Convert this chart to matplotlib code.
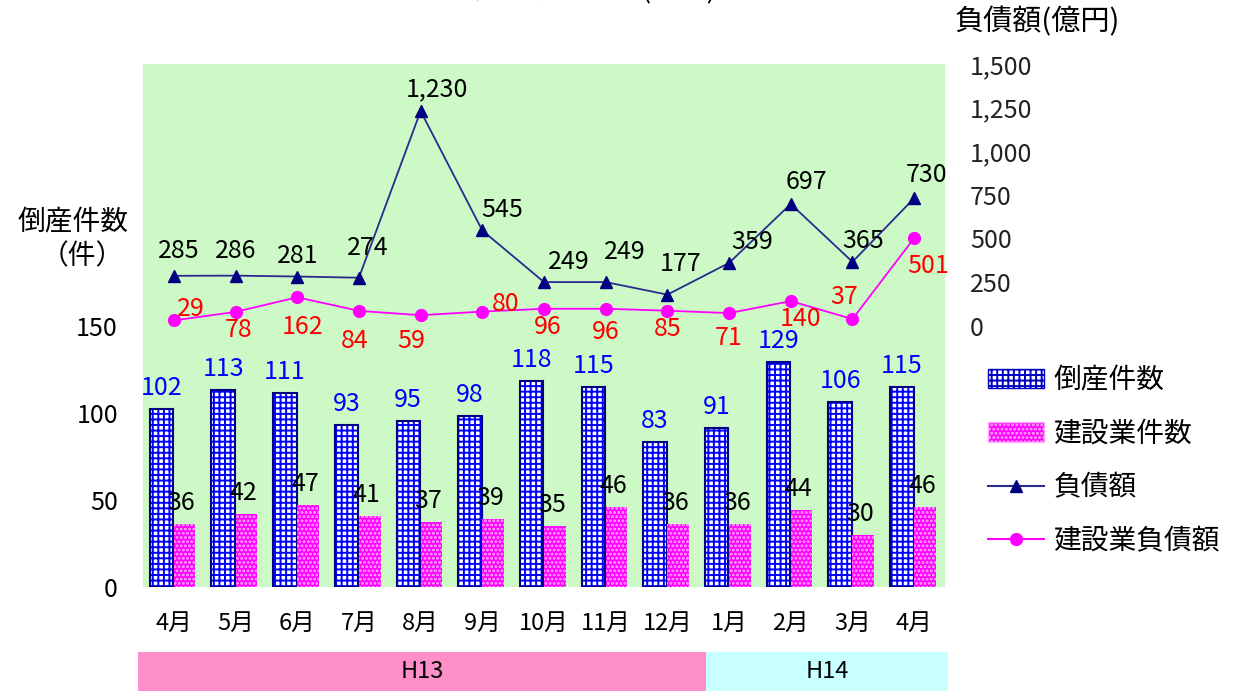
import numpy as np
import matplotlib
matplotlib.use('Agg')
import matplotlib.pyplot as plt
from matplotlib.patches import Patch, Rectangle
from matplotlib.lines import Line2D
from matplotlib.transforms import blended_transform_factory

plt.rcParams['font.family'] = ['Noto Sans CJK JP', 'DejaVu Sans']
plt.rcParams['hatch.linewidth'] = 1.4

# データ
months = ['4月', '5月', '6月', '7月', '8月', '9月', '10月', '11月', '12月',
          '1月', '2月', '3月', '4月']
periods = ['H13', 'H14']
period_lengths = [9, 4]
total_counts = [102, 113, 111, 93, 95, 98, 118, 115, 83, 91, 129, 106, 115]
constr_counts = [36, 42, 47, 41, 37, 39, 35, 46, 36, 36, 44, 30, 46]
total_debt = [285, 286, 281, 274, 1230, 545, 249, 249, 177, 359, 697, 365, 730]
constr_debt = [29, 78, 162, 84, 59, 80, 96, 96, 85, 71, 140, 37, 501]

# ラベル位置 (pixel offset)
debt_offsets = [(5, -25), (0, -25), (0, -21), (9, -30), (16, -22), (20, -20), (25, -20),
                (19, -30), (13, -31), (23, -21), (16, -22), (11, -21), (12, -23)]
cdebt_offsets = [(17, -11), (3, 18), (5, 30), (-4, 30), (-9, 26), (23, -8), (4, 18),
                 (0, 23), (0, 18), (0, 25), (10, 18), (-8, -22), (14, 28)]

W, H = 1235, 691
fig = plt.figure(figsize=(W / 100, H / 100), dpi=100)
ax = fig.add_axes([143 / W, 104 / H, 802 / W, 523 / H])
ax.set_facecolor('#ccf9c6')
for s in ax.spines.values():
    s.set_visible(False)

x = np.arange(len(months))
ax.bar(x - 0.2, total_counts, 0.38, facecolor='white', edgecolor='#0000ff', hatch='+++', lw=0)
ax.bar(x - 0.2, total_counts, 0.38, fill=False, edgecolor='#000080', lw=1.5)
ax.bar(x + 0.175, constr_counts, 0.35, facecolor='#ff00ff', edgecolor='#ffb0ff', hatch='....', lw=0)

for i, v in enumerate(total_counts):
    ax.annotate(str(v), (x[i] - 0.2, v), xytext=(0, 8), textcoords='offset pixels',
                ha='center', va='bottom', color='#0000ff', fontsize=18)
for i, v in enumerate(constr_counts):
    ax.annotate(str(v), (x[i] + 0.175, v), xytext=(-3, 8), textcoords='offset pixels',
                ha='center', va='bottom', color='black', fontsize=18)

ax.set_xlim(-0.5, 12.5)
ax.set_ylim(0, 300)
ax.set_yticks([0, 50, 100, 150])
ax.set_xticks(x, months)
ax.tick_params(axis='y', length=0, pad=18, labelsize=18)
ax.tick_params(axis='x', length=0, pad=18, labelsize=17)

ax2 = ax.twinx()
for s in ax2.spines.values():
    s.set_visible(False)
ax2.set_ylim(-1500, 1500)
rticks = [0, 250, 500, 750, 1000, 1250, 1500]
ax2.set_yticks(rticks, [f'{v:,}' for v in rticks])
ax2.tick_params(axis='y', length=0, pad=18, labelsize=18, labelcolor='#222222')

ax2.plot(x, total_debt, color='#2a2a90', lw=1.3, marker='^', ms=9, mfc='#000080', mec='#000080')
ax2.plot(x, constr_debt, color='#ff00ff', lw=1.3, marker='o', ms=8.5)

for i, v in enumerate(total_debt):
    ax2.annotate(f'{v:,}', (x[i], v), xytext=(debt_offsets[i][0], -debt_offsets[i][1]),
                 textcoords='offset pixels', ha='center', va='center', color='black', fontsize=18)
for i, v in enumerate(constr_debt):
    ax2.annotate(str(v), (x[i], v), xytext=(cdebt_offsets[i][0], -cdebt_offsets[i][1]),
                 textcoords='offset pixels', ha='center', va='center', color='#ff0000', fontsize=18)

# 年度帯
trans = blended_transform_factory(ax.transData, fig.transFigure)
band_colors = ['#ff8fc8', '#c8ffff']
start = -0.58
for j, (p, n) in enumerate(zip(periods, period_lengths)):
    end = start + n + (0.2 if j == 0 else -0.07)
    ax.add_patch(Rectangle((start, 0), end - start, 39 / H, transform=trans,
                           facecolor=band_colors[j], edgecolor='none', clip_on=False))
    ax.text((start + end) / 2, 20 / H, p, transform=trans, ha='center', va='center', fontsize=17)
    start = end

# 軸タイトル
fig.text(128 / W, 1 - 222 / H, '倒産件数', ha='right', va='center', fontsize=20)
fig.text(124 / W, 1 - 256 / H, '（件）', ha='right', va='center', fontsize=20)
fig.text(955 / W, 1 - 22 / H, '負債額(億円)', ha='left', va='center', fontsize=21)
fig.text(0.449, 1 - 5 / H, '企業倒産状況の推移(東北)', ha='center', va='bottom', fontsize=20)

handles = [Patch(facecolor='white', edgecolor='#0000c0', hatch='+++'),
           Patch(facecolor='#ff00ff', edgecolor='#ffb0ff', hatch='....'),
           Line2D([], [], color='#2a2a90', marker='^', ms=9, mfc='#000080', mec='#000080'),
           Line2D([], [], color='#ff00ff', marker='o', ms=8.5)]
labels = ['倒産件数', '建設業件数', '負債額', '建設業負債額']
fig.legend(handles, labels, loc='upper left', bbox_to_anchor=(977 / W, 1 - 354 / H),
           frameon=False, fontsize=20, handlelength=2.0, handletextpad=0.35,
           labelspacing=0.85, borderaxespad=0)

fig.savefig('out.png', dpi=100)
